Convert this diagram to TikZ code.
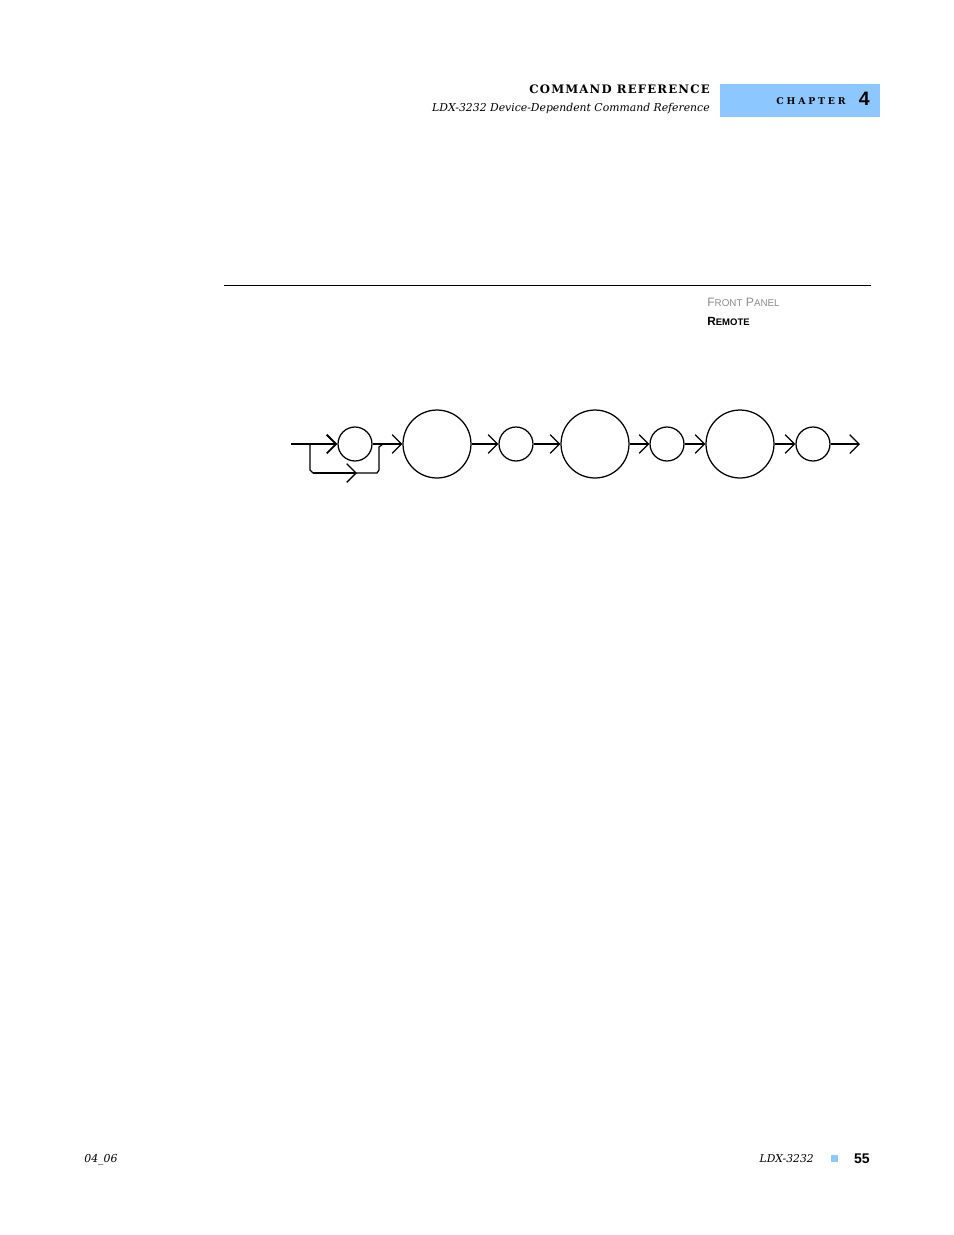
\documentclass[tikz,border=0pt]{standalone}
\usepackage{fontspec}
\setmainfont{DejaVu Serif}
\setsansfont{Liberation Sans}
\newfontfamily\headfont[LetterSpace=10]{DejaVu Serif}
\newfontfamily\chapfont[LetterSpace=30]{DejaVu Serif}
\usepackage{xcolor}
\usetikzlibrary{positioning,arrows.meta}
\definecolor{chapblue}{RGB}{140,200,255}
\definecolor{panelgray}{RGB}{140,140,140}

\begin{document}
\begin{tikzpicture}[x=0.6415pt, y=-0.6415pt,
    bigcirc/.style={circle, draw, line width=0.8pt, minimum size=43.6pt, inner sep=0pt},
    smallcirc/.style={circle, draw, line width=0.8pt, minimum size=21.8pt, inner sep=0pt},
    flow/.style={line width=0.8pt},
    arr/.style={flow, -{Straight Barb[length=6pt,width=12pt]}}]
      \useasboundingbox (0,0) rectangle (954,1235);

      % Define the header nodes
      \fill[chapblue] (720,84) rectangle (880,117);
      \node[anchor=base east, inner sep=0pt] (cmdref) at (710,93) {\headfont\bfseries\fontsize{7.5}{9}\selectfont COMMAND REFERENCE};
      \node[anchor=base east, inner sep=0pt] (ldxref) at (710,111) {\itshape\fontsize{6.95}{9}\selectfont LDX-3232 Device-Dependent Command Reference};
      \node[anchor=base east, inner sep=0pt] (chapter) at (846,104) {\chapfont\bfseries\fontsize{6}{7}\selectfont CHAPTER};
      \node[anchor=base east, inner sep=0pt] (chapnum) at (870,105) {\sffamily\bfseries\fontsize{12.5}{14}\selectfont 4};

      % Draw the rule and the panel labels
      \draw[line width=0.6pt] (224,285) -- (871,285);
      \node[anchor=base west, inner sep=0pt, text=panelgray] (front) at (707,306) {\sffamily\fontsize{7.8}{8}\selectfont F{\fontsize{6.3}{7}\selectfont RONT} P{\fontsize{6.3}{7}\selectfont ANEL}};
      \node[anchor=base west, inner sep=0pt] (remote) at (707,325) {\sffamily\bfseries\fontsize{7.6}{8}\selectfont R{\fontsize{6.1}{7}\selectfont EMOTE}};

      % Define the nodes of the syntax diagram
      \node[smallcirc] (c1) at (355,444) {};
      \node[bigcirc] (b1) at (437,444) {};
      \node[smallcirc] (c2) at (516,444) {};
      \node[bigcirc] (b2) at (595,444) {};
      \node[smallcirc] (c3) at (667,444) {};
      \node[bigcirc] (b3) at (740,444) {};
      \node[smallcirc] (c4) at (813,444) {};
      \coordinate (start) at (291,444);
      \coordinate (split) at (310,444);
      \coordinate (join) at (383,444);
      \coordinate (finish) at (860,444);

      % Draw the arrows between the nodes
      \draw[arr, line width=1.2pt] (start) -- (c1);
      \draw[arr] (c1) -- (b1);
      \draw[arr] (b1) -- (c2);
      \draw[arr] (c2) -- (b2);
      \draw[arr] (b2) -- (c3);
      \draw[arr] (c3) -- (b3);
      \draw[arr] (b3) -- (c4);
      \draw[arr] (c4) -- (finish);

      % Draw the bypass below the first node
      \draw[flow] (split) -- ++(0,26) -- ++(3,3) -- ++(64,0) -- ++(2,-3) -- ++(0,-23) -- (join);
      \draw[arr] (313,473) -- (357,473);

      % Define the footer nodes
      \node[anchor=base west, inner sep=0pt] (docid) at (84,1162) {\itshape\fontsize{7}{9}\selectfont 04\_06};
      \node[anchor=base east, inner sep=0pt] (ldx) at (814,1162) {\itshape\fontsize{6.9}{9}\selectfont LDX-3232};
      \fill[chapblue] (831,1155) rectangle (838,1162);
      \node[anchor=base east, inner sep=0pt] (page) at (870,1163) {\sffamily\bfseries\fontsize{9}{10}\selectfont 55};
\end{tikzpicture}
\end{document}
